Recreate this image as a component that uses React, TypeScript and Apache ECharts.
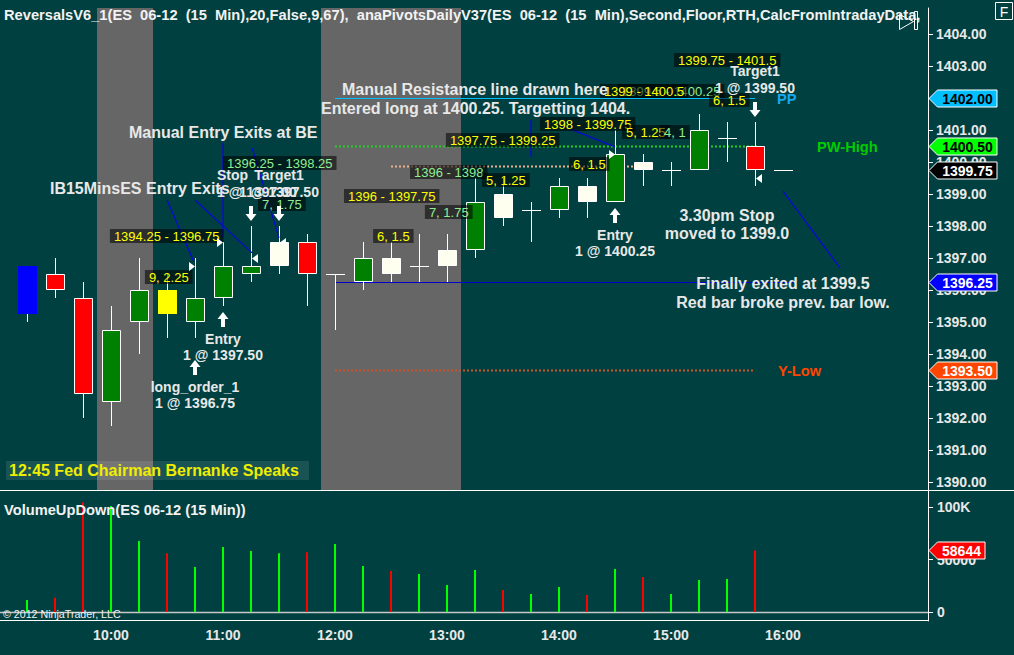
import React, { useEffect, useRef } from 'react';
import * as echarts from 'echarts';

// ---------------- data ----------------
const TIMES = ['9:15', '9:30', '9:45', '10:00', '10:15', '10:30', '10:45', '11:00', '11:15', '11:30', '11:45', '12:00', '12:15', '12:30', '12:45', '13:00', '13:15', '13:30', '13:45', '14:00', '14:15', '14:30', '14:45', '15:00', '15:15', '15:30', '15:45', '16:00', '16:15', '16:30', '16:45', '17:00', '17:15'];
const HOUR_LABELS = ['10:00', '11:00', '12:00', '13:00', '14:00', '15:00', '16:00'];

const OPEN = [1395.25, 1396.5, 1395.75, 1392.5, 1395, 1396, 1395, 1395.75, 1396.5, 1396.75, 1397.5, 1396.5, 1396.25, 1396.5, 1396.75, 1396.75, 1397.25, 1398.25, 1398.5, 1398.5, 1398.75, 1398.75, 1399.75, 1399.75, 1399.75, 1400.75, 1400.5, 1399.75];
const HIGH = [1396.75, 1397, 1396.25, 1395.5, 1397, 1396.5, 1397, 1397.5, 1398, 1398, 1397.75, 1396.5, 1397.5, 1397.5, 1397.75, 1397.75, 1399.5, 1399.5, 1398.75, 1399.5, 1399.5, 1401, 1400.25, 1400, 1401.5, 1401.25, 1401.25, 1399.75];
const LOW = [1395, 1395.75, 1392, 1391.75, 1394, 1394.5, 1394.5, 1395.5, 1396.25, 1396.5, 1395.5, 1394.75, 1396, 1396.25, 1396.25, 1396.25, 1397, 1398, 1397.5, 1398.25, 1398.25, 1398.75, 1399.25, 1399.25, 1399.75, 1400, 1399.25, 1399.75];
const CLOSE = [1396.75, 1396, 1392.75, 1394.75, 1396, 1395.25, 1395.75, 1396.75, 1396.75, 1397.5, 1396.5, 1396.5, 1397, 1397, 1396.75, 1397.25, 1398.75, 1399, 1398.5, 1399.25, 1399.25, 1400.25, 1400, 1399.75, 1401, 1400.75, 1399.75, 1399.75];
const BAR_PAINT = ['blue', 'red', 'red', 'green', 'green', 'yellow', 'green', 'green', 'green', 'ivory', 'red', 'cross', 'green', 'ivory', 'cross', 'ivory', 'green', 'ivory', 'cross', 'green', 'ivory', 'green', 'ivory', 'cross', 'green', 'cross', 'red', 'cross'];

const VOLUME = [11400, 13600, 104500, 101000, 67600, 56000, 42900, 61900, 58000, 56000, 57000, 64800, 43800, 39000, 36200, 25700, 40000, 21000, 17100, 23800, 16200, 41000, 33300, 17100, 30500, 31400, 58644];
const VOL_UP = [1, 0, 0, 1, 1, 0, 1, 1, 1, 1, 0, 1, 1, 0, 1, 1, 1, 0, 1, 1, 0, 1, 0, 1, 1, 1, 0];

const PRICE_TICKS = [1390, 1391, 1392, 1393, 1394, 1395, 1396, 1397, 1398, 1399, 1400, 1401, 1402, 1403, 1404];
const VOL_TICKS = [0, 50000, 100000];

const SESSION_FROM = [3, 11];
const SESSION_TO = [4, 15];

const LEVEL_NAME = ['PP', 'PW-High', 'Y-Low', '', ''];
const LEVEL_PRICE = [1402, 1400.5, 1393.5, 1399.875, 1396.25];
const LEVEL_FROM = [11, 11, 11, 13, 11];
const LEVEL_TO = [26, 26, 26, 22, 27];

const FLAG_PRICE = [1402, 1400.5, CLOSE[CLOSE.length - 1], 1396.25, 1393.5];

const EXEC_BAR = [6, 7, 8, 9, 21, 26];
const EXEC_PRICE = [1396.75, 1397.5, 1397, 1397.5, 1400.25, 1399.5];
const EXEC_SIDE = ['entry', 'entry', 'exit', 'exit', 'entry', 'exit'];
const EXEC_NAME = ['long_order_1', 'Entry', 'Stop', 'Target1', 'Entry', 'Target1'];

const SWING_TEXT = ['1394.25 - 1396.75', '9, 2.25', '1396.25 - 1398.25', '7, 1.75', '1396 - 1397.75', '6, 1.5', '1396 - 1398', '7, 1.75', '5, 1.25', '6, 1.5', '1397.75 - 1399.25', '1398 - 1399.75', '5, 1.25', '4, 1', '1399.5 - 1400.25', '1399 - 1400.5', '6, 1.5', '1399.75 - 1401.5'];
const SWING_BAR = [2.96, 4.21, 7.0, 8.25, 11.32, 12.36, 13.68, 14.21, 16.25, 19.36, 14.96, 18.32, 21.25, 22.61, 21.11, 20.46, 24.36, 23.11];
const SWING_PRICE = [1397.7, 1396.42, 1399.97, 1398.69, 1398.95, 1397.69, 1399.69, 1398.45, 1399.44, 1399.94, 1400.7, 1401.2, 1400.95, 1400.95, 1402.22, 1402.22, 1401.94, 1403.2];
const SWING_KIND = ['y', 'y', 'g', 'g', 'y', 'y', 'g', 'g', 'y', 'y', 'y', 'y', 'y', 'g', 'g', 'y', 'y', 'y'];

const NOTE_TEXT = ['Manual Resistance line drawn here', 'Entered long at 1400.25. Targetting 1404.', 'Manual Entry Exits at BE', 'IB15MinsES Entry Exits', '3.30pm Stop\nmoved to 1399.0', 'Finally exited at 1399.5\nRed bar broke prev. bar low.'];
const NOTE_BAR = [11.25, 10.5, 3.64, 0.82, 25, 27];
const NOTE_PRICE = [1402.27, 1401.66, 1400.91, 1399.16, 1398.34, 1396.19];

const PTR_X1 = [5.0, 6.0, 7.0, 8.04, 18.0, 19.04, 27.0];
const PTR_P1 = [1398.81, 1398.81, 1400.59, 1400.44, 1401.31, 1401.16, 1399.09];
const PTR_X2 = [5.96, 8.04, 7.0, 9.0, 18.0, 21.0, 29.04];
const PTR_P2 = [1396.88, 1397.16, 1397.63, 1397.63, 1400.16, 1400.47, 1396.69];

const HEADER = 'ReversalsV6_1(ES  06-12  (15  Min),20,False,9,67),  anaPivotsDailyV37(ES  06-12  (15  Min),Second,Floor,RTH,CalcFromIntradayData,F';

// ---------------- styles / layout ----------------
const FF = '"Liberation Sans", Arial, Helvetica, sans-serif';
const BG = '#004040';
const TXT = '#e8e8e8';
const GRID_LEFT = 13;
const BAND = 28;
const GRID_WIDTH = BAND * TIMES.length;
const AXIS_SHIFT = -9;
const MAIN_TOP = 8;
const MAIN_HEIGHT = 482;
const PRICE_MIN = 1389.75;
const PRICE_MAX = 1404.8125;
const VOL_TOP = 491;
const VOL_HEIGHT = 130;
const VOL_PX = 0.00105;
const VOL_ZERO_PX = 121;
const VOL_MAX = VOL_ZERO_PX / VOL_PX;
const VOL_MIN = -(VOL_HEIGHT - VOL_ZERO_PX) / VOL_PX;

const PAINT: any = {
  green: { fill: '#008000', stroke: '#ffffff' },
  red: { fill: '#ff0000', stroke: '#ffffff' },
  ivory: { fill: '#fffff0', stroke: '#ffffff' },
  yellow: { fill: '#ffff00', stroke: null },
  blue: { fill: '#0000ff', stroke: null },
  cross: { fill: null, stroke: '#ffffff' },
};

const LEVEL_STYLE: any[] = [
  { color: '#00bfff', dash: null, width: 1, label: '#18a8f0', dx: 22, ext: 0 },
  { color: '#22cc22', dash: [2, 2], width: 2, label: '#00cc00', dx: 62, ext: 2 },
  { color: '#cc5528', dash: [2, 2], width: 2, label: '#ff4500', dx: 23, ext: 0 },
  { color: '#e8b08a', dash: [2, 2], width: 2, label: null, dx: 0, ext: 0 },
  { color: '#0000cd', dash: null, width: 1, label: null, dx: 0, ext: 12 },
];

const FLAG_STYLE: any[] = [
  { fill: '#00bfff', text: '#000000' },
  { fill: '#00ff00', text: '#000000' },
  { fill: '#000000', text: '#ffffff' },
  { fill: '#0000ff', text: '#ffffff' },
  { fill: '#ff4500', text: '#ffffff' },
];

const EXEC_STACK = [1, 0, 0, 0, 0, 0];
const EXEC_DX = [0, 0, -34, 0, 0, 0];
const EXEC_ALIGN = ['center', 'center', 'left', 'center', 'center', 'center'];
const NOTE_ALIGN = ['left', 'left', 'left', 'left', 'center', 'center'];

function helpers(params: any, api: any) {
  const x0 = api.coord([0, PRICE_MIN])[0];
  const band = api.size([1, 0])[0];
  const cs = params.coordSys;
  return {
    X: (i: number) => x0 + i * band,
    Y: (p: number) => api.coord([0, p])[1],
    band,
    cs,
    axisX: cs.x + cs.width + AXIS_SHIFT,
  };
}

function textEl(text: string, x: number, y: number, fill: string, font: string, align = 'left', extra: any = {}) {
  return { type: 'text', x, y, style: { text, fill, font, align, verticalAlign: 'middle', ...extra } };
}

function arrowUp(cx: number, top: number) {
  return {
    type: 'polygon',
    shape: { points: [[cx, top], [cx + 5.5, top + 7], [cx + 2, top + 7], [cx + 2, top + 15], [cx - 2, top + 15], [cx - 2, top + 7], [cx - 5.5, top + 7]] },
    style: { fill: '#ffffff' },
  };
}
function arrowDown(cx: number, bottom: number) {
  return {
    type: 'polygon',
    shape: { points: [[cx, bottom], [cx + 5.5, bottom - 7], [cx + 2, bottom - 7], [cx + 2, bottom - 15], [cx - 2, bottom - 15], [cx - 2, bottom - 7], [cx - 5.5, bottom - 7]] },
    style: { fill: '#ffffff' },
  };
}

function renderSession(params: any, api: any) {
  const { X, band, cs } = helpers(params, api);
  const k = params.dataIndex;
  const x1 = X(SESSION_FROM[k]) - band / 2;
  const x2 = X(SESSION_TO[k]) + band / 2;
  return { type: 'rect', shape: { x: x1, y: cs.y, width: x2 - x1, height: cs.height }, style: { fill: '#666666' } };
}

function renderLevel(params: any, api: any) {
  const { X, Y } = helpers(params, api);
  const k = params.dataIndex;
  const st = LEVEL_STYLE[k];
  const y = Math.round(Y(LEVEL_PRICE[k])) + 0.5;
  const x1 = X(LEVEL_FROM[k]);
  const x2 = X(LEVEL_TO[k]) + st.ext;
  const children: any[] = [
    { type: 'line', shape: { x1, y1: y, x2, y2: y }, style: { stroke: st.color, lineWidth: st.width, lineDash: st.dash || undefined } },
  ];
  if (st.label && LEVEL_NAME[k]) {
    children.push(textEl(LEVEL_NAME[k], X(LEVEL_TO[k]) + st.dx, y, st.label, `bold 14.67px ${FF}`));
  }
  return { type: 'group', children };
}

function renderCandle(params: any, api: any) {
  const i = api.value(0);
  const o = api.value(1), c = api.value(2), l = api.value(3), h = api.value(4);
  const paint = PAINT[BAR_PAINT[i]];
  const cx = Math.round(api.coord([i, o])[0]) + 0.5;
  const yo = api.coord([i, o])[1], yc = api.coord([i, c])[1];
  const yl = Math.round(api.coord([i, l])[1]), yh = Math.round(api.coord([i, h])[1]);
  const top = Math.round(Math.min(yo, yc));
  const bot = Math.round(Math.max(yo, yc));
  const half = 9;
  const children: any[] = [];
  if (yl - yh > 0) {
    children.push({ type: 'line', shape: { x1: cx, y1: yh, x2: cx, y2: yl }, style: { stroke: '#ffffff', lineWidth: 1 } });
  }
  if (bot - top < 1 || !paint.fill) {
    children.push({ type: 'line', shape: { x1: cx - half - 0.5, y1: top + 0.5, x2: cx + half + 0.5, y2: top + 0.5 }, style: { stroke: '#ffffff', lineWidth: 1 } });
  } else if (paint.stroke) {
    children.push({ type: 'rect', shape: { x: cx - half, y: top + 0.5, width: half * 2, height: bot - top - 1 }, style: { fill: paint.fill, stroke: paint.stroke, lineWidth: 1 } });
  } else {
    children.push({ type: 'rect', shape: { x: cx - half - 0.5, y: top, width: half * 2 + 1, height: bot - top }, style: { fill: paint.fill } });
  }
  return { type: 'group', children };
}

function renderPointer(params: any, api: any) {
  const { X, Y } = helpers(params, api);
  const k = params.dataIndex;
  return {
    type: 'line',
    shape: { x1: X(PTR_X1[k]), y1: Y(PTR_P1[k]), x2: X(PTR_X2[k]), y2: Y(PTR_P2[k]) },
    style: { stroke: '#0a0ad0', lineWidth: 1.3 },
  };
}

function renderSwing(params: any, api: any) {
  const { X, Y } = helpers(params, api);
  const k = params.dataIndex;
  return textEl(SWING_TEXT[k], X(SWING_BAR[k]), Math.round(Y(SWING_PRICE[k])), SWING_KIND[k] === 'y' ? '#ffff00' : '#90ee90', `13px ${FF}`, 'left', {
    backgroundColor: 'rgba(0,0,0,0.55)',
    padding: [1, 4, 0, 4],
  });
}

function renderNote(params: any, api: any) {
  const { X, Y } = helpers(params, api);
  const k = params.dataIndex;
  const lines = NOTE_TEXT[k].split('\n');
  const x = X(NOTE_BAR[k]);
  const y = Y(NOTE_PRICE[k]);
  return {
    type: 'group',
    children: lines.map((ln, j) => textEl(ln, x, y + j * 18.5, TXT, `bold 16px ${FF}`, NOTE_ALIGN[k])),
  };
}

function renderExec(params: any, api: any) {
  const { X, Y } = helpers(params, api);
  const k = params.dataIndex;
  const i = EXEC_BAR[k];
  const cx = X(i);
  const yp = Math.round(Y(EXEC_PRICE[k])) + 0.5;
  const entry = EXEC_SIDE[k] === 'entry';
  const children: any[] = [];
  children.push({
    type: 'polygon',
    shape: { points: entry ? [[cx, yp], [cx - 6, yp - 4.5], [cx - 6, yp + 4.5]] : [[cx + 1, yp], [cx + 7, yp - 4.5], [cx + 7, yp + 4.5]] },
    style: { fill: '#ffffff' },
  });
  let l1: number, l2: number;
  if (entry) {
    const top = Math.round(Y(LOW[i])) + 6 + EXEC_STACK[k] * 16;
    children.push(arrowUp(cx, top));
    l1 = top + 27;
    l2 = top + 43;
  } else {
    const bottom = Math.round(Y(HIGH[i])) - 5;
    children.push(arrowDown(cx, bottom));
    l1 = bottom - 46;
    l2 = bottom - 29;
  }
  const lx = cx + EXEC_DX[k];
  const font = `bold 14px ${FF}`;
  children.push(textEl(EXEC_NAME[k], lx, l1, TXT, font, EXEC_ALIGN[k]));
  children.push(textEl(`1 @ ${EXEC_PRICE[k].toFixed(2)}`, lx, l2, TXT, font, EXEC_ALIGN[k]));
  return { type: 'group', children };
}

function flagEl(ax: number, y: number, w: number, label: string, fill: string, color: string) {
  return {
    type: 'group',
    children: [
      {
        type: 'polygon',
        shape: { points: [[ax + 1, y], [ax + 9.5, y - 8.5], [ax + w, y - 8.5], [ax + w, y + 8.5], [ax + 9.5, y + 8.5]] },
        style: { fill, stroke: '#ffffff', lineWidth: 1 },
      },
      textEl(label, ax + 5 + w / 2, y + 0.5, color, `bold 14px ${FF}`, 'center'),
    ],
  };
}

function renderFlag(params: any, api: any) {
  const { Y, axisX } = helpers(params, api);
  const k = params.dataIndex;
  const y = Math.round(Y(FLAG_PRICE[k])) + 0.5;
  return flagEl(axisX, y, 69, FLAG_PRICE[k].toFixed(2), FLAG_STYLE[k].fill, FLAG_STYLE[k].text);
}

function renderVolFlag(params: any, api: any) {
  const cs = params.coordSys;
  const axisX = cs.x + cs.width + AXIS_SHIFT;
  const v = api.value(1);
  const y = Math.round(api.coord([0, v])[1]) + 0.5;
  return flagEl(axisX, y, 57, String(v), '#ff0000', '#ffffff');
}

function renderBaseline(params: any, api: any) {
  const cs = params.coordSys;
  const axisX = cs.x + cs.width + AXIS_SHIFT;
  const y = Math.round(api.coord([0, 0])[1]) + 0.5;
  return { type: 'line', shape: { x1: 0, y1: y, x2: axisX, y2: y }, style: { stroke: '#c8c8c8', lineWidth: 1.5 } };
}

function buildOption(): any {
  const custom = (name: string, renderItem: any, data: any[], z: number, axisIdx = 0) => ({
    type: 'custom',
    name,
    xAxisIndex: axisIdx,
    yAxisIndex: axisIdx,
    renderItem,
    data,
    z,
    clip: false,
    silent: true,
  });
  const axisLabelStyle = { color: TXT, fontWeight: 'bold', fontSize: 14, fontFamily: FF };
  return {
    animation: false,
    backgroundColor: BG,
    tooltip: { show: false },
    grid: [
      { left: GRID_LEFT, top: MAIN_TOP, width: GRID_WIDTH, height: MAIN_HEIGHT, containLabel: false, outerBoundsMode: 'none' },
      { left: GRID_LEFT, top: VOL_TOP, width: GRID_WIDTH, height: VOL_HEIGHT, containLabel: false, outerBoundsMode: 'none' },
    ],
    xAxis: [
      { type: 'category', gridIndex: 0, data: TIMES, show: false },
      {
        type: 'category',
        gridIndex: 1,
        data: TIMES,
        position: 'bottom',
        axisLine: { show: false },
        axisTick: { show: false },
        splitLine: { show: false },
        axisLabel: { ...axisLabelStyle, margin: 7, interval: (_i: number, v: string) => HOUR_LABELS.includes(v) },
      },
    ],
    yAxis: [
      {
        type: 'value',
        gridIndex: 0,
        position: 'right',
        offset: AXIS_SHIFT,
        min: PRICE_MIN,
        max: PRICE_MAX,
        splitLine: { show: false },
        axisLine: { show: true, lineStyle: { color: '#ffffff', width: 1 } },
        axisTick: { show: true, customValues: PRICE_TICKS, length: 5, lineStyle: { color: '#ffffff' } },
        axisLabel: { ...axisLabelStyle, customValues: PRICE_TICKS, margin: 8, formatter: (v: number) => v.toFixed(2) },
      },
      {
        type: 'value',
        gridIndex: 1,
        position: 'right',
        offset: AXIS_SHIFT,
        min: VOL_MIN,
        max: VOL_MAX,
        splitLine: { show: false },
        axisLine: { show: true, lineStyle: { color: '#ffffff', width: 1 } },
        axisTick: { show: true, customValues: VOL_TICKS, length: 5, lineStyle: { color: '#ffffff' } },
        axisLabel: { ...axisLabelStyle, customValues: VOL_TICKS, margin: 9, formatter: (v: number) => (v >= 100000 ? `${v / 1000}K` : `${v}`) },
      },
    ],
    series: [
      custom('sessions', renderSession, SESSION_FROM.map((f, k) => [f, SESSION_TO[k]]), 1),
      custom('levels', renderLevel, LEVEL_PRICE.map((p, k) => [LEVEL_FROM[k], p]), 2),
      custom('candles', renderCandle, OPEN.map((o, i) => [i, o, CLOSE[i], LOW[i], HIGH[i]]), 3),
      custom('pointers', renderPointer, PTR_X1.map((x, k) => [Math.round(x), PTR_P1[k]]), 4),
      custom('swings', renderSwing, SWING_TEXT.map((_t, k) => [Math.round(SWING_BAR[k]), SWING_PRICE[k]]), 5),
      custom('notes', renderNote, NOTE_TEXT.map((_t, k) => [Math.round(NOTE_BAR[k]), NOTE_PRICE[k]]), 6),
      custom('executions', renderExec, EXEC_BAR.map((b, k) => [b, EXEC_PRICE[k]]), 7),
      custom('flags', renderFlag, FLAG_PRICE.map((p) => [0, p]), 8),
      {
        type: 'bar',
        name: 'volume',
        xAxisIndex: 1,
        yAxisIndex: 1,
        barWidth: 2,
        silent: true,
        z: 3,
        data: VOLUME.map((v, i) => ({ value: v, itemStyle: { color: VOL_UP[i] ? '#00ff00' : '#ff0000' } })),
      },
      custom('baseline', renderBaseline, [[0, 0]], 2, 1),
      custom('volFlag', renderVolFlag, [[VOLUME.length - 1, VOLUME[VOLUME.length - 1]]], 8, 1),
    ],
    graphic: [
      {
        type: 'text', x: 4, y: 14.5, z: 100,
        style: { text: HEADER, fill: '#f2f2f2', font: `bold 14.67px ${FF}`, verticalAlign: 'middle', width: 918, overflow: 'truncate', ellipsis: '' },
      },
      { type: 'polyline', z: 100, shape: { points: [[899.5, 14.5], [913.5, 21.5], [899.5, 29.5], [899.5, 14.5]] }, style: { stroke: '#ffffff', fill: 'none', lineWidth: 1 } },
      { type: 'rect', z: 100, shape: { x: 914.5, y: 11.5, width: 3, height: 18 }, style: { stroke: '#ffffff', fill: 'none', lineWidth: 1 } },
      { type: 'rect', z: 100, shape: { x: 995.5, y: 2.5, width: 17, height: 17 }, style: { stroke: '#ffffff', fill: 'none', lineWidth: 1 } },
      { type: 'text', z: 100, x: 1004, y: 11.5, style: { text: 'F', fill: '#ffffff', font: `14px ${FF}`, align: 'center', verticalAlign: 'middle' } },
      { type: 'rect', z: 100, shape: { x: 6, y: 461, width: 303, height: 19 }, style: { fill: 'rgba(255,255,255,0.1)' } },
      { type: 'text', z: 101, x: 9, y: 470.5, style: { text: '12:45 Fed Chairman Bernanke Speaks', fill: '#eeee00', font: `bold 16px ${FF}`, verticalAlign: 'middle' } },
      { type: 'line', z: 100, shape: { x1: 0, y1: 490.5, x2: 1014, y2: 490.5 }, style: { stroke: '#ffffff', lineWidth: 1 } },
      { type: 'line', z: 100, shape: { x1: 0, y1: 620.5, x2: 929, y2: 620.5 }, style: { stroke: '#ffffff', lineWidth: 1 } },
      { type: 'text', z: 100, x: 4, y: 510, style: { text: 'VolumeUpDown(ES 06-12 (15 Min))', fill: '#f2f2f2', font: `bold 14.67px ${FF}`, verticalAlign: 'middle' } },
      { type: 'text', z: 100, x: 3, y: 614, style: { text: '\u00a9 2012 NinjaTrader, LLC', fill: '#f2f2f2', font: `10.67px ${FF}`, verticalAlign: 'middle' } },
    ],
  };
}

export default function App() {
  const ref = useRef<HTMLDivElement>(null);
  useEffect(() => {
    if (!ref.current) return;
    document.body.style.margin = '0';
    document.body.style.padding = '0';
    const chart = echarts.init(ref.current, undefined, { renderer: 'svg', width: 1014, height: 655 });
    chart.setOption(buildOption());
    return () => chart.dispose();
  }, []);
  return <div ref={ref} style={{ position: 'absolute', left: 0, top: 0, width: 1014, height: 655, margin: 0 }} />;
}
